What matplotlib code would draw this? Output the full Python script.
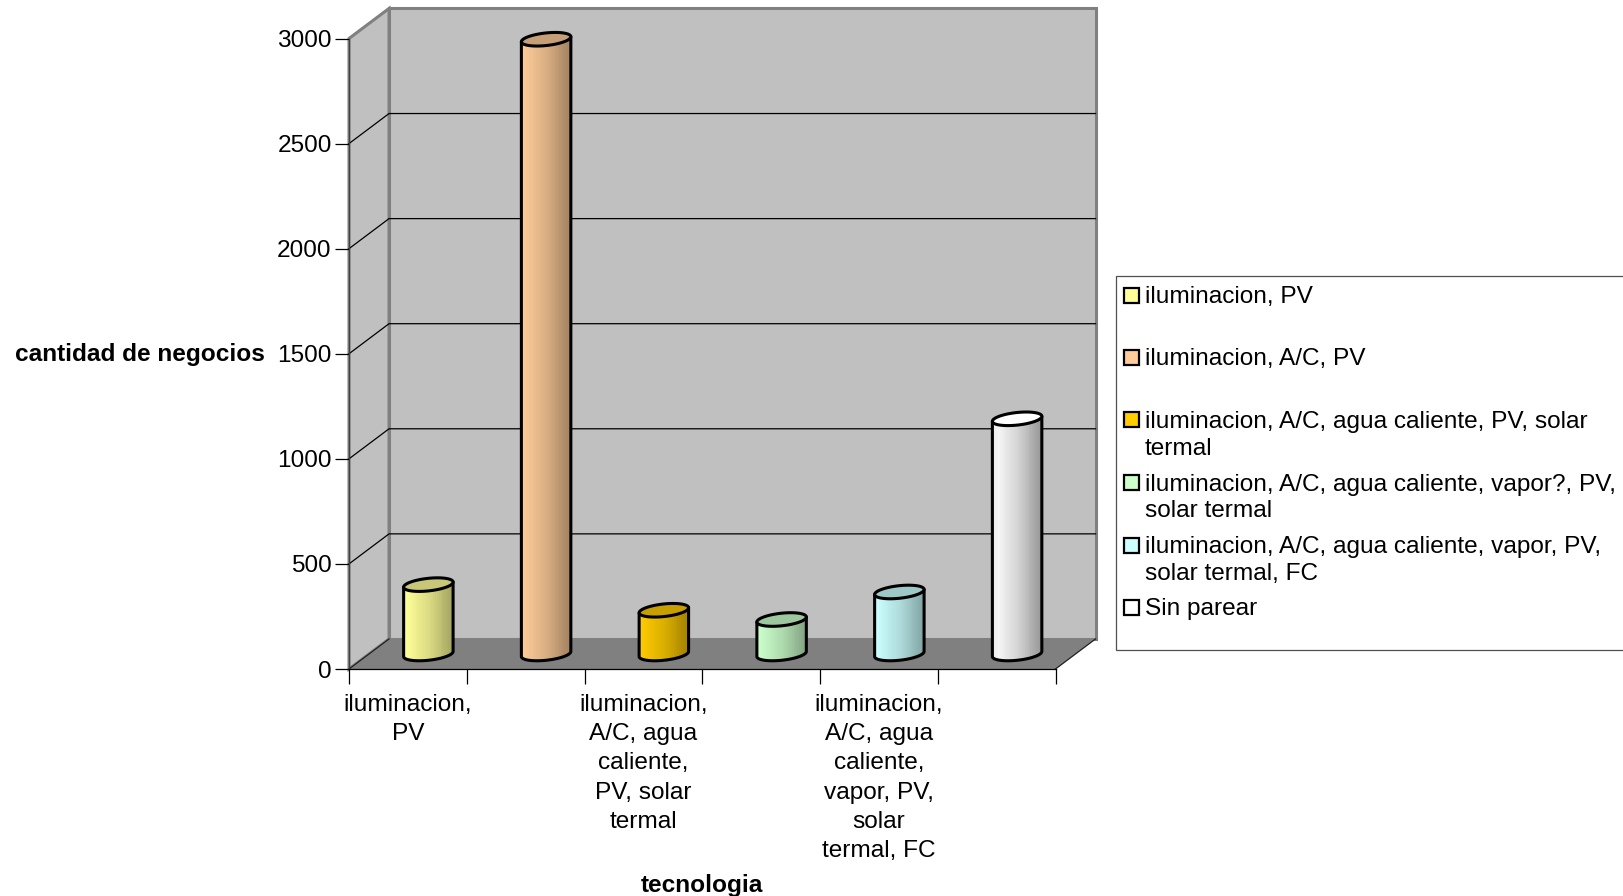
import numpy as np
import matplotlib
matplotlib.use('Agg')
import matplotlib.pyplot as plt
from matplotlib.patches import Polygon, Rectangle

plt.rcParams['font.family'] = ['Liberation Sans', 'DejaVu Sans']

# datos
categories = ['iluminacion, PV', 'iluminacion, A/C, PV',
              'iluminacion, A/C, agua caliente, PV, solar termal',
              'iluminacion, A/C, agua caliente, vapor?, PV, solar termal',
              'iluminacion, A/C, agua caliente, vapor, PV, solar termal, FC',
              'Sin parear']
values = [330, 2925, 208, 164, 295, 1119]
colors = ['#FFFF99', '#FFCC99', '#FFCC00', '#CCFFCC', '#CCFFFF', '#FFFFFF']
tick_labels = ['iluminacion,\nPV', 'iluminacion,\nA/C, agua\ncaliente,\nPV, solar\ntermal',
               'iluminacion,\nA/C, agua\ncaliente,\nvapor, PV,\nsolar\ntermal, FC']
tick_label_slots = [0, 2, 4]
legend_labels = ['iluminacion, PV', 'iluminacion, A/C, PV',
                 'iluminacion, A/C, agua caliente, PV, solar\ntermal',
                 'iluminacion, A/C, agua caliente, vapor?, PV,\nsolar termal',
                 'iluminacion, A/C, agua caliente, vapor, PV,\nsolar termal, FC',
                 'Sin parear']
y_ticks = [0, 500, 1000, 1500, 2000, 2500, 3000]

W, H = 1623, 896
FS = 17.6
depth_x = 0.34    # profundidad del grafico 3d en unidades de x
depth_y = 143     # y en unidades de y
bar_w = 0.42
ell_h = 30
ell_tilt = 12

fig = plt.figure(figsize=(W / 100, H / 100), dpi=100)
ax = fig.add_axes([349 / W, (H - 669) / H, 706.5 / W, 630.5 / H])
n = len(values)
ymax = y_ticks[-1]

# paredes y piso
ax.add_patch(Polygon([(depth_x, depth_y), (n + depth_x, depth_y), (n + depth_x, ymax + depth_y),
                      (depth_x, ymax + depth_y)], fc='#C0C0C0', ec='#808080', lw=2.2, zorder=1, clip_on=False))
ax.add_patch(Polygon([(0, 0), (depth_x, depth_y), (depth_x, ymax + depth_y), (0, ymax)],
                     fc='#C0C0C0', ec='#808080', lw=2.2, zorder=1.2, clip_on=False))
for v in y_ticks[1:-1]:
    ax.plot([0, depth_x, n + depth_x], [v, v + depth_y, v + depth_y], color='black', lw=0.9,
            zorder=1.5, clip_on=False)
ax.add_patch(Polygon([(0, 0), (n, 0), (n + depth_x, depth_y), (depth_x, depth_y)],
                     fc='#808080', ec='none', zorder=2, clip_on=False))
ax.plot([0, depth_x], [0, depth_y], color='#202020', lw=0.9, zorder=2.1, clip_on=False)
ax.plot([n, n + depth_x], [0, depth_y], color='#202020', lw=0.9, zorder=2.1, clip_on=False)

# cilindros
t = np.linspace(0, 2 * np.pi, 121)
shade = np.interp(np.linspace(0, 1, 26), [0, 0.5, 1], [1.0, 0.86, 0.64])
for i, (val, col) in enumerate(zip(values, colors)):
    cx = i + 0.5 + depth_x / 2 + 0.004
    base = depth_y / 2
    top = base + val
    a = bar_w / 2
    ex = cx + a * np.cos(t)
    ey = ell_h * np.sin(t) + ell_tilt * np.cos(t)
    low = t[60:121]   # mitad de abajo de la elipse
    low_x = cx + a * np.cos(low)
    low_y = base + ell_h * np.sin(low) + ell_tilt * np.cos(low)
    body_xy = list(zip(low_x, low_y)) + [(cx + a, top + ell_tilt), (cx - a, top - ell_tilt)]
    body = Polygon(body_xy, fc='none', ec='black', lw=2.2, zorder=5, clip_on=False, joinstyle='round')
    rgb = np.array(matplotlib.colors.to_rgb(col))
    s = shade.copy()
    if col == '#FFFFFF':
        s = np.interp(np.linspace(0, 1, 26), [0, 0.12, 0.5, 1], [0.93, 0.96, 0.84, 0.6])
    grad = (s[:, None] * rgb)[None, :, :]
    im = ax.imshow(grad, extent=[cx - a, cx + a, base - ell_h - ell_tilt, top + ell_tilt], aspect='auto',
                   interpolation='nearest', zorder=4, clip_on=True)
    clip = Polygon(body_xy, transform=ax.transData)
    im.set_clip_path(clip)
    ax.add_patch(body)
    top_col = rgb if col == '#FFFFFF' else rgb * 0.78
    ax.add_patch(Polygon(np.column_stack([ex, top + ey]), fc=top_col, ec='black', lw=2.2, zorder=6, clip_on=False))

ax.set_xlim(0, n)
ax.set_ylim(0, ymax)
ax.set_aspect('auto')
ax.patch.set_visible(False)
for s in ['top', 'right']:
    ax.spines[s].set_visible(False)
ax.spines['left'].set_color('#404040')
ax.spines['left'].set_linewidth(0.9)
ax.spines['bottom'].set_color('black')
ax.spines['bottom'].set_linewidth(0.9)
ax.spines['bottom'].set_zorder(3)

ax.set_yticks(y_ticks)
ax.tick_params(axis='y', length=10, width=0.9, pad=2.5, labelsize=FS)
ax.set_xticks(range(n + 1))
ax.set_xticklabels([])
ax.tick_params(axis='x', which='major', length=10.5, width=0.9)
ax.set_xticks([s + 0.5 for s in tick_label_slots], minor=True)
ax.set_xticklabels(tick_labels, minor=True, fontsize=FS, linespacing=1.43)
ax.tick_params(axis='x', which='minor', length=0, pad=17.7)

fig.text(265 / W, 1 - 354.5 / H, 'cantidad de negocios', fontsize=FS, fontweight='bold', ha='right', va='center')
fig.text(702 / W, 1 - 885 / H, 'tecnologia', fontsize=FS, fontweight='bold', ha='center', va='center')

# leyenda
fig.add_artist(Rectangle((1116 / W, 1 - 650 / H), 520 / W, 374 / H, fc='white', ec='#505050', lw=0.9,
                         transform=fig.transFigure))
for i, (lab, col) in enumerate(zip(legend_labels, colors)):
    yc = 295 + 62.5 * i
    fig.add_artist(Rectangle((1124 / W, 1 - (yc + 7.5) / H), 15 / W, 15 / H, fc=col, ec='black', lw=1.6,
                             transform=fig.transFigure))
    fig.text(1145 / W, 1 - (yc - 9) / H - 0, lab, fontsize=FS, ha='left', va='top', linespacing=1.27)

plt.savefig('out.png', dpi=100)
